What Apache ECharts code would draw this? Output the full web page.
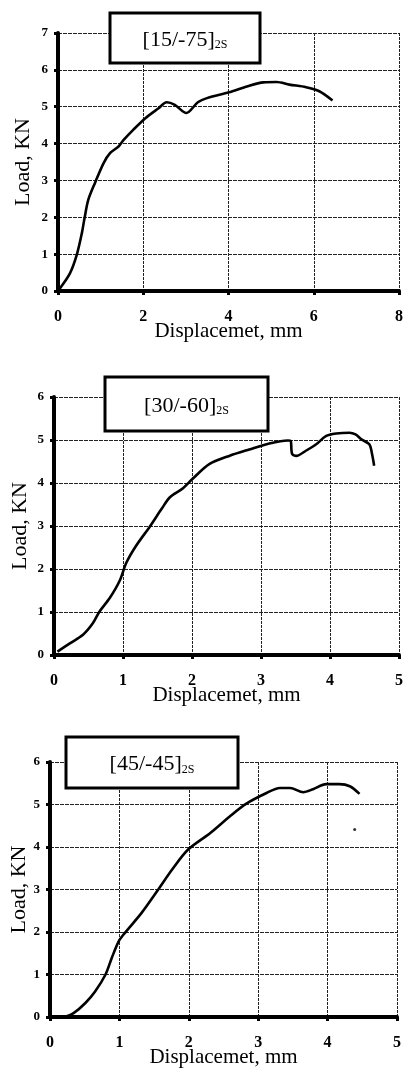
<!DOCTYPE html>
<html>
<head>
<meta charset="utf-8">
<script src="https://cdn.jsdelivr.net/npm/echarts@6/dist/echarts.min.js"></script>
<style>
  html, body { margin: 0; padding: 0; background: #fff; }
  #app { width: 406px; height: 1072px; }
</style>
</head>
<body>
<div id="app"></div>
<script>
// values (displacement mm / load kN)
var disp15 = [0.03, 0.28, 0.44, 0.56, 0.62, 0.71, 0.87, 1.07, 1.22, 1.42, 1.54, 1.77, 2.05, 2.36, 2.55, 2.74, 3.01, 3.28, 3.51, 4.01, 4.43, 4.82, 5.13, 5.43, 5.82, 6.13, 6.44];
var load15 = [0.05, 0.48, 0.98, 1.57, 1.96, 2.47, 2.94, 3.47, 3.74, 3.92, 4.10, 4.38, 4.69, 4.96, 5.12, 5.05, 4.83, 5.12, 5.24, 5.39, 5.55, 5.66, 5.67, 5.60, 5.53, 5.42, 5.17];

var disp30 = [0.05, 0.23, 0.42, 0.56, 0.66, 0.81, 0.95, 1.05, 1.19, 1.39, 1.56, 1.68, 1.87, 2.01, 2.25, 2.54, 2.83, 3.12, 3.39, 3.43, 3.45, 3.51, 3.65, 3.80, 3.94, 4.09, 4.28, 4.37, 4.45, 4.57, 4.61, 4.64];
var load30 = [0.08, 0.27, 0.47, 0.73, 1.01, 1.33, 1.72, 2.15, 2.54, 2.99, 3.40, 3.67, 3.88, 4.10, 4.44, 4.63, 4.78, 4.92, 4.99, 4.98, 4.68, 4.63, 4.75, 4.90, 5.09, 5.15, 5.17, 5.13, 5.02, 4.90, 4.67, 4.40];

var disp45 = [0.22, 0.34, 0.51, 0.65, 0.80, 0.89, 0.99, 1.08, 1.32, 1.56, 1.76, 1.99, 2.31, 2.59, 2.83, 3.12, 3.31, 3.46, 3.65, 3.79, 3.98, 4.17, 4.32, 4.46];
var load45 = [0.00, 0.09, 0.33, 0.60, 1.00, 1.39, 1.78, 1.98, 2.45, 3.00, 3.47, 3.94, 4.33, 4.72, 5.02, 5.27, 5.39, 5.39, 5.29, 5.36, 5.48, 5.48, 5.43, 5.25];
var speck45 = [[4.39, 4.41]];

var layupNames = ['[15/-75]', '[30/-60]', '[45/-45]'];
var layupSub = '2S';
var xMax = [8, 5, 5];
var xStep = [2, 1, 1];
var yMax = [7, 6, 6];

var serif = 'Liberation Serif';

function pairs(xs, ys) {
    return xs.map(function (x, i) { return [x, ys[i]]; });
}

var grids = [
    { left: 58, right: 6, top: 33, height: 258 },
    { left: 54, right: 6, top: 397, height: 258 },
    { left: 50, right: 9, top: 762, height: 255 }
];
var yNameGap = [24, 23, 20];

var xAxes = [], yAxes = [];
for (var i = 0; i < 3; i++) {
    xAxes.push({
        type: 'value', gridIndex: i, min: 0, max: xMax[i], interval: xStep[i],
        name: 'Displacemet, mm', nameLocation: 'middle', nameGap: 30, nameMoveOverlap: false,
        nameTextStyle: { fontFamily: serif, fontSize: 21, color: '#000' },
        axisLine: { lineStyle: { color: '#000', width: 4 } },
        axisTick: { show: true, length: 4, lineStyle: { color: '#000', width: 3 } },
        axisLabel: { margin: 18, fontFamily: serif, fontSize: 16, fontWeight: 'bold', color: '#000' },
        splitLine: { show: true, lineStyle: { color: '#222', width: 1, type: [3, 1] } }
    });
    yAxes.push({
        type: 'value', gridIndex: i, min: 0, max: yMax[i], interval: 1,
        name: 'Load, KN', nameLocation: 'middle', nameGap: yNameGap[i], nameMoveOverlap: false,
        nameTextStyle: { fontFamily: serif, fontSize: 22, color: '#000' },
        axisLine: { show: true, lineStyle: { color: '#000', width: 4 } },
        axisTick: { show: true, length: 4, lineStyle: { color: '#000', width: 3 } },
        axisLabel: { margin: 10, fontFamily: serif, fontSize: 13, fontWeight: 'bold', color: '#000' },
        splitLine: { show: true, lineStyle: { color: '#222', width: 1.2, type: [4, 1] } }
    });
}

function curve(idx, data) {
    return {
        type: 'line', xAxisIndex: idx, yAxisIndex: idx, data: data,
        showSymbol: false, smooth: 0.3, z: 5,
        lineStyle: { color: '#000', width: 2.6 }
    };
}

// label boxes over the plots
var boxes = [
    { x: 110, y: 13, w: 150, h: 50 },
    { x: 105, y: 377, w: 163, h: 54 },
    { x: 66, y: 737, w: 172, h: 51 }
];
var graphics = [];
boxes.forEach(function (b, i) {
    graphics.push({
        type: 'rect', z: 100,
        shape: { x: b.x, y: b.y, width: b.w, height: b.h },
        style: { fill: '#fff', stroke: '#000', lineWidth: 3 }
    });
    graphics.push({
        type: 'text', z: 101,
        x: b.x + b.w / 2, y: b.y + b.h / 2 + 1,
        style: {
            text: '{a|' + layupNames[i] + '}{s|' + layupSub + '}',
            align: 'center', verticalAlign: 'middle',
            rich: {
                a: { fontFamily: serif, fontSize: 22, fill: '#000', verticalAlign: 'bottom', lineHeight: 24 },
                s: { fontFamily: serif, fontSize: 12, fill: '#000', verticalAlign: 'bottom', lineHeight: 18 }
            }
        }
    });
});

var chart = echarts.init(document.getElementById('app'));
chart.setOption({
    animation: false,
    backgroundColor: '#fff',
    grid: grids,
    xAxis: xAxes,
    yAxis: yAxes,
    graphic: graphics,
    series: [
        curve(0, pairs(disp15, load15)),
        curve(1, pairs(disp30, load30)),
        curve(2, pairs(disp45, load45)),
        {
            type: 'scatter', xAxisIndex: 2, yAxisIndex: 2, data: speck45,
            symbolSize: 3, itemStyle: { color: '#000' }
        }
    ]
});
</script>
</body>
</html>
